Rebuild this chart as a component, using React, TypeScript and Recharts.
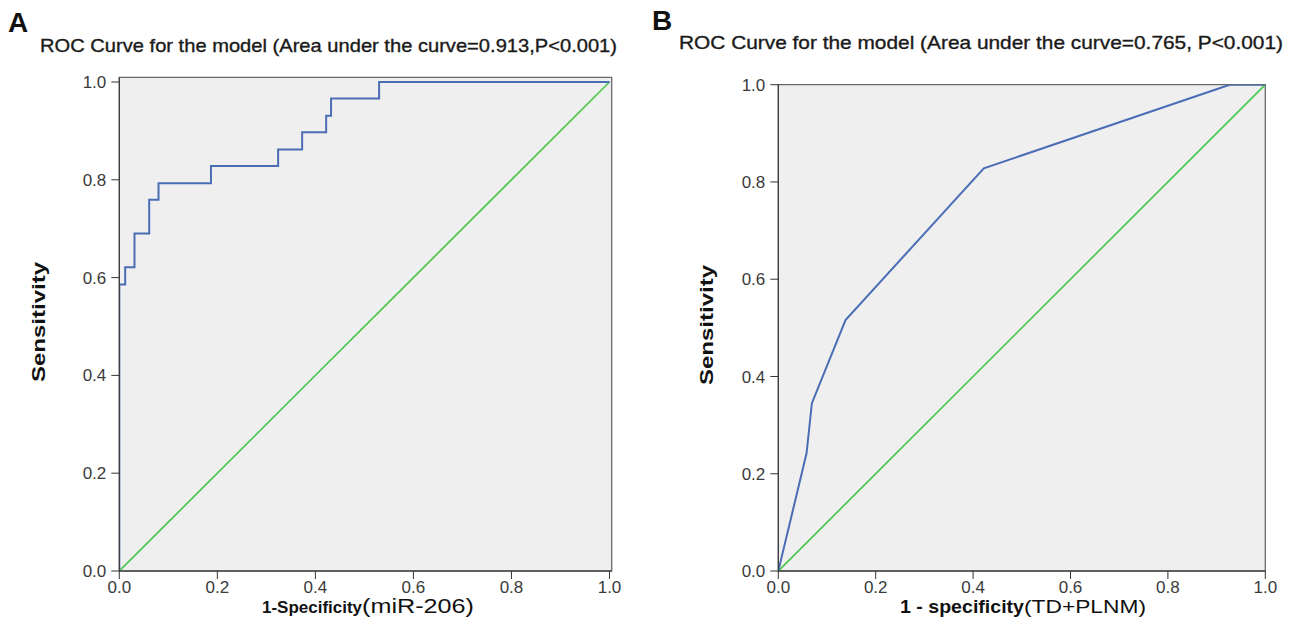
import React from 'react';
import { LineChart, Line, XAxis, YAxis, ReferenceArea } from 'recharts';

// Panel A: ROC for miR-206 (step curve corner points)
const rocAFpr = [0, 0, 0.012, 0.031, 0.061, 0.08, 0.187, 0.324, 0.373, 0.422, 0.432, 0.53, 1.0];
const rocASens = [0, 0.586, 0.621, 0.69, 0.759, 0.793, 0.828, 0.862, 0.897, 0.931, 0.966, 1.0, 1.0];
// Panel B: ROC for TD+PLNM
const rocBFpr = [0, 0.058, 0.069, 0.138, 0.422, 0.927, 1.0];
const rocBSens = [0, 0.242, 0.345, 0.516, 0.828, 1.0, 1.0];
// Reference diagonal
const diagFpr = [0, 1];
const diagSens = [0, 1];
const ticks = [0, 0.2, 0.4, 0.6, 0.8, 1.0];

const titleA = 'ROC Curve for the model (Area under the curve=0.913,P<0.001)';
const titleB = 'ROC Curve for the model (Area under the curve=0.765, P<0.001)';

const toPts = (xs: number[], ys: number[]) => xs.map((x, i) => ({ x, y: ys[i] }));

const FONT = '"Liberation Sans", Arial, sans-serif';
const BLUE = '#4a6db6';
const GREEN = '#4cc74c';
const tickStyle = { fontSize: 17, fill: '#3a3a3a', fontFamily: FONT };

function Panel(props: {
  left: number; width: number; xMax: number; yMax: number; margin: any;
  data: { x: number; y: number }[]; step: boolean;
}) {
  const { left, width, xMax, yMax, margin, data, step } = props;
  return (
    <div style={{ position: 'absolute', left, top: 0 }}>
      <LineChart width={width} height={637} margin={margin}>
        <XAxis
          type="number"
          dataKey="x"
          domain={[0, xMax]}
          ticks={ticks}
          allowDataOverflow
          tickFormatter={(v: number) => v.toFixed(1)}
          height={40}
          tickSize={8}
          tickMargin={2}
          stroke="#333"
          tick={tickStyle}
        />
        <YAxis
          type="number"
          dataKey="y"
          domain={[0, yMax]}
          ticks={ticks}
          allowDataOverflow
          tickFormatter={(v: number) => v.toFixed(1)}
          width={60}
          tickSize={8}
          tickMargin={5}
          stroke="#333"
          tick={tickStyle}
        />
        <ReferenceArea x1={0} x2={xMax} y1={0} y2={yMax} fill="#efefef" fillOpacity={1} stroke="#6a6a6a" strokeWidth={1.3} />
        <Line
          data={toPts(diagFpr, diagSens)}
          dataKey="y"
          type="linear"
          stroke={GREEN}
          strokeWidth={1.7}
          dot={false}
          activeDot={false}
          isAnimationActive={false}
        />
        <Line
          data={data}
          dataKey="y"
          type={step ? 'stepAfter' : 'linear'}
          stroke={BLUE}
          strokeWidth={2}
          dot={false}
          activeDot={false}
          isAnimationActive={false}
        />
      </LineChart>
    </div>
  );
}

export default function App() {
  return (
    <div style={{ position: 'absolute', left: 0, top: 0, width: 1302, height: 637, background: '#fff', overflow: 'hidden' }}>
      <Panel
        left={0}
        width={650}
        xMax={1.0045}
        yMax={1.0096}
        margin={{ top: 77.3, right: 38.3, bottom: 26, left: 59.3 }}
        data={toPts(rocAFpr, rocASens)}
        step
      />
      <Panel
        left={650}
        width={652}
        xMax={1.0}
        yMax={1.0}
        margin={{ top: 84.7, right: 36.7, bottom: 26, left: 68.3 }}
        data={toPts(rocBFpr, rocBSens)}
        step={false}
      />
      <svg width={1302} height={637} style={{ position: 'absolute', left: 0, top: 0, pointerEvents: 'none' }}>
        <g fontFamily={FONT} fill="#111">
          <text x={8} y={32} fontSize={28} fontWeight="bold">A</text>
          <text x={652} y={30} fontSize={28} fontWeight="bold">B</text>
          <text x={40} y={52} fontSize={19} textLength={577} lengthAdjust="spacingAndGlyphs" fill="#1a1a1a" stroke="#1a1a1a" strokeWidth={0.35}>{titleA}</text>
          <text x={679} y={49} fontSize={19} textLength={604} lengthAdjust="spacingAndGlyphs" fill="#1a1a1a" stroke="#1a1a1a" strokeWidth={0.35}>{titleB}</text>
          <text transform="translate(45,322) rotate(-90)" textAnchor="middle" fontSize={19} fontWeight="bold" textLength={120} lengthAdjust="spacingAndGlyphs">Sensitivity</text>
          <text transform="translate(713,325) rotate(-90)" textAnchor="middle" fontSize={19} fontWeight="bold" textLength={120} lengthAdjust="spacingAndGlyphs">Sensitivity</text>
          <text x={262} y={613}>
            <tspan fontSize={16} fontWeight="bold" textLength={100} lengthAdjust="spacingAndGlyphs">1-Specificity</tspan>
            <tspan fontSize={20} textLength={112} lengthAdjust="spacingAndGlyphs">(miR-206)</tspan>
          </text>
          <text x={900} y={613}>
            <tspan fontSize={19} fontWeight="bold" textLength={124} lengthAdjust="spacingAndGlyphs">1 - specificity</tspan>
            <tspan fontSize={18} textLength={122} lengthAdjust="spacingAndGlyphs">(TD+PLNM)</tspan>
          </text>
        </g>
      </svg>
    </div>
  );
}
